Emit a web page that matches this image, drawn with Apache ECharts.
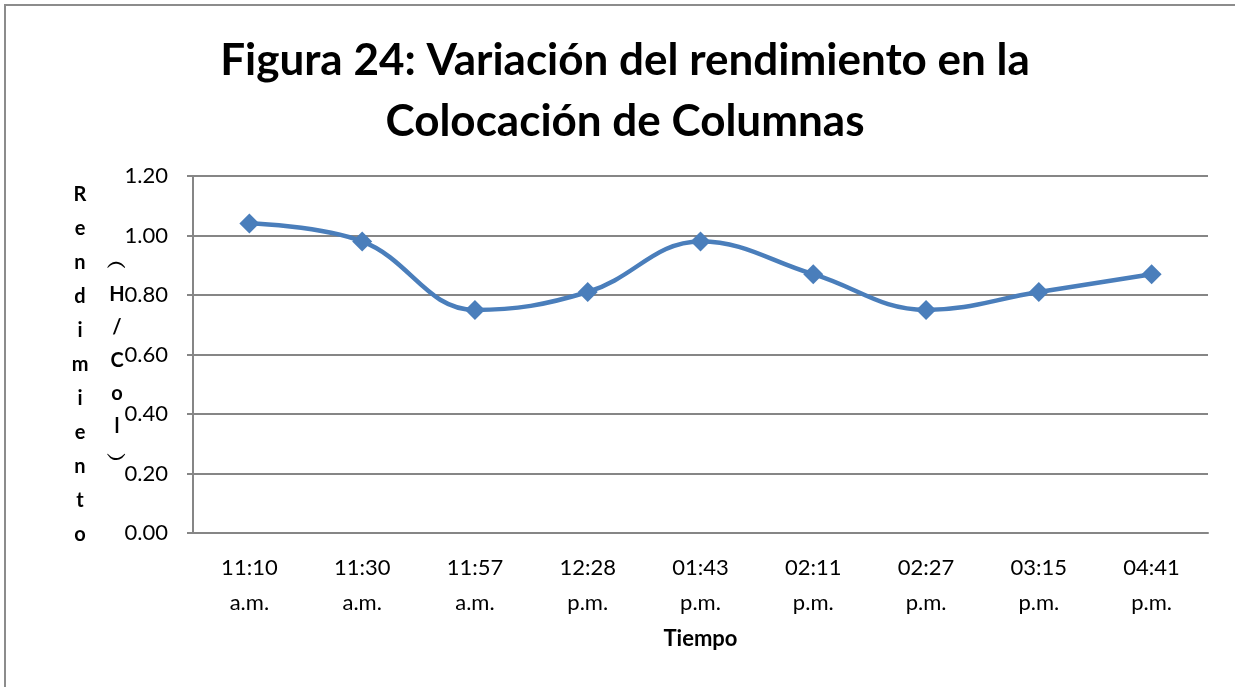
<!DOCTYPE html>
<html>
<head>
<meta charset="utf-8">
<script src="https://cdn.jsdelivr.net/npm/echarts@6/dist/echarts.min.js"></script>
<style>
  html, body { margin: 0; padding: 0; background: #fff; }
  #main { width: 1235px; height: 687px; }
</style>
</head>
<body>
<div id="main"></div>
<script>
// 数据
var categories = ['11:10\na.m.', '11:30\na.m.', '11:57\na.m.', '12:28\np.m.', '01:43\np.m.', '02:11\np.m.', '02:27\np.m.', '03:15\np.m.', '04:41\np.m.'];
var rendimiento = [1.04, 0.98, 0.75, 0.81, 0.98, 0.87, 0.75, 0.81, 0.87];
var titleLines = ['Figura 24: Variación del rendimiento en la', 'Colocación de Columnas'];
var yName = 'Rendimiento';
var yUnit = '︵H/Col︶';

(function () {
  var myChart = echarts.init(document.getElementById('main'));
  var font = 'Lato, "Open Sans", sans-serif';
  var option = {
    backgroundColor: '#fff',
    animation: false,
    title: {
      text: titleLines.join('\n'),
      left: 620,
      top: 25,
      textAlign: 'center',
      textStyle: {
        fontFamily: font,
        fontSize: 44,
        fontWeight: 'bold',
        color: '#000',
        lineHeight: 61
      }
    },
    grid: {
      left: 193,
      right: 27,
      top: 176,
      bottom: 154
    },
    // 外框 + 竖排 y 轴标题
    graphic: [
      {
        type: 'rect',
        shape: { x: 5, y: 5, width: 1260, height: 720 },
        style: { fill: 'none', stroke: '#8c8c8c', lineWidth: 2 },
        silent: true
      },
      {
        type: 'text',
        x: 80,
        y: 178,
        style: {
          text: yName.split('').join('\n'),
          font: 'bold 20px ' + font,
          fill: '#000',
          align: 'center',
          lineHeight: 34
        }
      },
      {
        type: 'text',
        x: 117,
        y: 245,
        style: {
          text: yUnit.split('').join('\n'),
          font: 'bold 20px ' + font,
          fill: '#000',
          align: 'center',
          lineHeight: 33
        }
      }
    ],
    xAxis: {
      type: 'category',
      data: categories,
      name: 'Tiempo',
      nameLocation: 'middle',
      nameGap: 95,
      nameTextStyle: {
        fontFamily: font,
        fontSize: 22,
        fontWeight: 'bold',
        color: '#000'
      },
      axisLine: {
        lineStyle: { color: '#868686', width: 2 }
      },
      axisTick: {
        length: 6,
        lineStyle: { color: '#868686', width: 2 }
      },
      axisLabel: {
        fontFamily: font,
        fontSize: 22,
        color: '#000',
        lineHeight: 35,
        margin: 17
      }
    },
    yAxis: {
      type: 'value',
      min: 0,
      max: 1.2,
      interval: 0.2,
      axisLine: {
        show: true,
        lineStyle: { color: '#868686', width: 2 }
      },
      axisTick: {
        show: true,
        length: 6,
        lineStyle: { color: '#868686', width: 2 }
      },
      axisLabel: {
        fontFamily: font,
        fontSize: 22,
        color: '#000',
        margin: 25,
        formatter: function (v) { return v.toFixed(2); }
      },
      splitLine: {
        lineStyle: { color: '#868686', width: 2 }
      }
    },
    series: [
      {
        name: 'Rendimiento',
        type: 'line',
        smooth: 0.4,
        data: rendimiento,
        symbol: 'diamond',
        symbolSize: 20,
        lineStyle: { color: '#4a7ebb', width: 4.5 },
        itemStyle: { color: '#4a7ebb' }
      }
    ]
  };

  myChart.setOption(option);
  window.addEventListener('resize', function () {
    myChart.resize();
  });
})();
</script>
</body>
</html>
